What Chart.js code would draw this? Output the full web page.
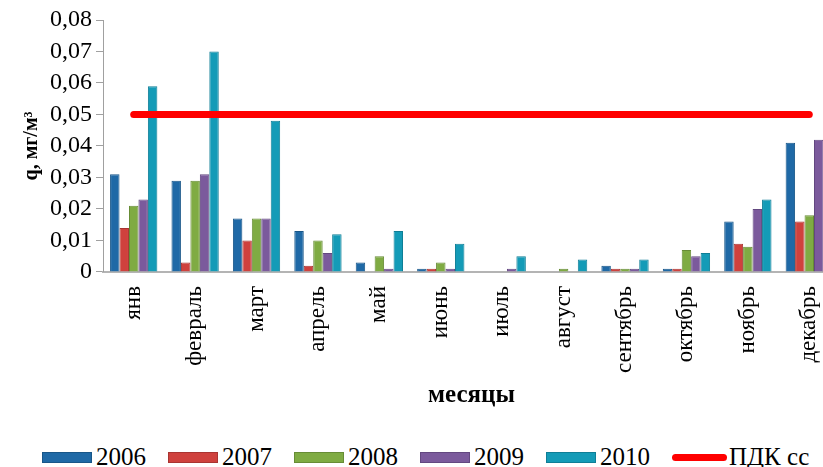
<!DOCTYPE html>
<html>
<head>
<meta charset="utf-8">
<script src="https://cdn.jsdelivr.net/npm/chart.js@4.4.0/dist/chart.umd.min.js"></script>
<style>
    html, body { margin: 0; padding: 0; background: #fff; overflow: hidden; }
    #container { position: relative; width: 823px; height: 467px; overflow: hidden; }
    #wrap { position: absolute; left: 0; top: 0; width: 843px; height: 415px; }
    #legend { position: absolute; left: 42px; top: 443px; display: flex; align-items: center;
              font-family: "Liberation Serif", serif; font-size: 25px; color: #000; }
    #legend .item { display: flex; align-items: center; width: 126px; }
    #legend .box { width: 50px; height: 11px; margin-right: 4px; box-sizing: border-box; }
    #legend .line { width: 55px; height: 7px; border-radius: 4px; margin-right: 2px; }
</style>
</head>
<body>
<div id="container">
    <div id="wrap"><canvas id="BarChart"></canvas></div>
    <div id="legend"></div>
</div>

<script>
    // months (x categories)
    var months = ['янв', 'февраль', 'март', 'апрель', 'май', 'июнь', 'июль', 'август', 'сентябрь', 'октябрь', 'ноябрь', 'декабрь'];

    // concentration by year, mg/m3
    var y2006 = [0.031, 0.029, 0.017, 0.013, 0.003, 0.001, 0, 0, 0.002, 0.001, 0.016, 0.041];
    var y2007 = [0.014, 0.003, 0.010, 0.002, 0, 0.001, 0, 0, 0.001, 0.001, 0.009, 0.016];
    var y2008 = [0.021, 0.029, 0.017, 0.010, 0.005, 0.003, 0, 0.001, 0.001, 0.007, 0.008, 0.018];
    var y2009 = [0.023, 0.031, 0.017, 0.006, 0.001, 0.001, 0.001, 0, 0.001, 0.005, 0.020, 0.042];
    var y2010 = [0.059, 0.070, 0.048, 0.012, 0.013, 0.009, 0.005, 0.004, 0.004, 0.006, 0.023, null];
    // ПДК сс limit
    var pdk = [0.05, 0.05, 0.05, 0.05, 0.05, 0.05, 0.05, 0.05, 0.05, 0.05, 0.05, 0.05];

    var yTicks = [0, 0.01, 0.02, 0.03, 0.04, 0.05, 0.06, 0.07, 0.08];

    var colors = {
        '2006': ['#1f69a6', '#185688'],
        '2007': ['#cf413d', '#a93431'],
        '2008': ['#7fab43', '#678c36'],
        '2009': ['#7b5a9c', '#634880'],
        '2010': ['#149bb7', '#0f7e96']
    };

    function barSet(label, values) {
        return {
            type: 'bar',
            label: label,
            data: values,
            backgroundColor: colors[label][0],
            borderColor: colors[label][1],
            borderWidth: 1,
            categoryPercentage: 0.77,
            barPercentage: 1.0,
            order: 2
        };
    }

    var serif = '"Liberation Serif", "Times New Roman", serif';

    var ctx = document.getElementById('BarChart').getContext('2d');
    var myChart = new Chart(ctx, {
        type: 'bar',
        data: {
            labels: months,
            datasets: [
                barSet('2006', y2006),
                barSet('2007', y2007),
                barSet('2008', y2008),
                barSet('2009', y2009),
                barSet('2010', y2010),
                {
                    type: 'line',
                    label: 'ПДК сс',
                    data: pdk,
                    borderColor: '#ff0000',
                    backgroundColor: '#ff0000',
                    borderWidth: 7,
                    borderCapStyle: 'round',
                    pointRadius: 0,
                    fill: false,
                    order: 1
                }
            ]
        },
        options: {
            responsive: true,
            maintainAspectRatio: false,
            animation: false,
            layout: { padding: { left: 16, right: 3, top: 20, bottom: 0 } },
            plugins: {
                legend: { display: false },
                tooltip: { enabled: false }
            },
            scales: {
                x: {
                    grid: { display: false },
                    border: { display: true, color: '#b4b4b4', width: 2 },
                    ticks: {
                        color: '#000',
                        font: { family: serif, size: 23 },
                        maxRotation: 90,
                        minRotation: 90,
                        autoSkip: false,
                        padding: 6
                    },
                    title: {
                        display: true,
                        text: 'месяцы',
                        color: '#000',
                        font: { family: serif, size: 25, weight: 'bold' },
                        padding: { top: 2 }
                    }
                },
                y: {
                    min: 0,
                    max: 0.08,
                    afterBuildTicks: function(axis) {
                        axis.ticks = yTicks.map(function(v) { return { value: v }; });
                    },
                    grid: { drawOnChartArea: false, color: '#a0a0a0', tickLength: 7 },
                    border: { display: true, color: '#a0a0a0', width: 1 },
                    ticks: {
                        color: '#000',
                        font: { family: serif, size: 24 },
                        autoSkip: false,
                        padding: 4,
                        callback: function(v) {
                            return v === 0 ? '0' : v.toFixed(2).replace('.', ',');
                        }
                    },
                    title: {
                        display: true,
                        text: 'q, мг/м³',
                        color: '#000',
                        font: { family: serif, size: 20, weight: 'bold' },
                        padding: { bottom: 2 }
                    }
                }
            }
        }
    });

    // legend as plain html, chart canvas is wider than the page (right side cut)
    var legendEl = document.getElementById('legend');
    ['2006', '2007', '2008', '2009', '2010'].forEach(function(k) {
        legendEl.innerHTML += '<div class="item"><div class="box" style="background:' + colors[k][0] +
            ';border:1px solid ' + colors[k][1] + '"></div>' + k + '</div>';
    });
    legendEl.innerHTML += '<div class="item" style="width:auto"><div class="line" style="background:#ff0000"></div>ПДК сс</div>';
</script>
</body>
</html>
